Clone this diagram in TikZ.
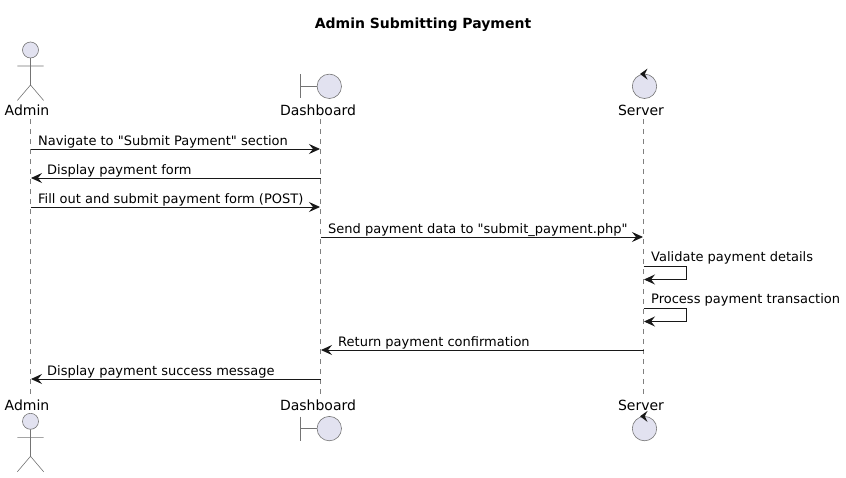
\documentclass[tikz,border=0pt]{standalone}
\usepackage{fontspec}
\setmainfont{DejaVu Sans}
\newfontfamily\plainfont{DejaVu Sans}
\usepackage{xcolor}
\usetikzlibrary{calc,arrows.meta,positioning}
\definecolor{inkx}{HTML}{181818}
\definecolor{softbg}{HTML}{E2E2F0}
\tikzset{
  x=1pt,y=-1pt,
  ar/.style={-{Stealth[length=11pt,width=10pt,inset=4pt]},line width=.9pt,inkx,shorten >=.5pt},
  lifeline/.style={inkx!55,line width=.6pt,dash pattern=on 5pt off 5pt},
  shp/.style={draw=inkx!60,line width=.6pt},
  orb/.style={shp,fill=softbg},
  party/.style={font=\fontsize{14}{16}\selectfont,inner sep=0pt,anchor=base,text=black},
  msg/.style={font=\plainfont\fontsize{13}{15}\selectfont,inner sep=0pt,anchor=base west,text=black}
}
\begin{document}
\begin{tikzpicture}
\useasboundingbox (0,0) rectangle (846,477);
\def\xA{30.5}\def\xD{320.5}\def\xS{643.5}
\node[font=\bfseries\fontsize{14}{16}\selectfont,inner sep=0pt,anchor=base] (title) at (423,28) {Admin Submitting Payment};
% participant names
\node[party] (adminTop) at (27,115) {Admin};
\node[party] (dashTop) at (318,115) {Dashboard};
\node[party] (serverTop) at (641,115) {Server};
\node[party] (adminBot) at (27,410) {Admin};
\node[party] (dashBot) at (318,410) {Dashboard};
\node[party] (serverBot) at (641,410) {Server};
% lifelines
\coordinate (aT) at (\xA,119); \coordinate (aB) at (\xA,395);
\coordinate (dT) at (\xD,119); \coordinate (dB) at (\xD,395);
\coordinate (sT) at (\xS,119); \coordinate (sB) at (\xS,395);
\draw[lifeline] (aT) -- (aB);
\draw[lifeline] (dT) -- (dB);
\draw[lifeline] (sT) -- (sB);
% actor, top and bottom
\foreach \y in {50,421.3}{
  \draw[orb] (\xA,\y) circle (8);
  \draw[shp] (\xA,\y+8) -- (\xA,\y+35) (17.3,\y+16) -- (43.7,\y+16)
    (17.3,\y+50.5) -- (\xA,\y+35) -- (43.7,\y+50.5);
}
% boundary, top and bottom
\foreach \y in {86.3,428.6}{
  \draw[shp] (300.3,\y-12) -- (300.3,\y+12) (300.3,\y) -- (317,\y);
  \draw[orb] (329.3,\y) circle (12.2);
}
% control, top and bottom
\foreach \y in {86.3,428.6}{
  \draw[orb] (644.5,\y) circle (12.2);
  \fill[inkx] (640,\y-12.3) -- (647.6,\y-17.8) -- (644.8,\y-12.3) -- (647.6,\y-6.6) -- cycle;
}
% messages
\foreach \n/\y in {1/149,2/178,3/207,4/237,5/350,6/379}{
  \coordinate (a\n) at (\xA,\y);
  \coordinate (d\n) at (\xD,\y);
  \coordinate (s\n) at (\xS,\y);
}
\draw[ar] (a1) -- (d1);
\draw[ar] (d2) -- (a2);
\draw[ar] (a3) -- (d3);
\draw[ar] (d4) -- (s4);
\draw[ar] (s5) -- (d5);
\draw[ar] (d6) -- (a6);
\node[msg] (m1) at (38,145.5) {Navigate to "Submit Payment" section};
\node[msg] (m2) at (47,174.5) {Display payment form};
\node[msg] (m3) at (38,203.5) {Fill out and submit payment form (POST)};
\node[msg] (m4) at (328,233.5) {Send payment data to "submit\_payment.php"};
\node[msg] (m5) at (338,346.5) {Return payment confirmation};
\node[msg] (m6) at (47,375.5) {Display payment success message};
% self messages
\coordinate (v1) at (\xS,266); \coordinate (v2) at (\xS,279.5);
\coordinate (p1) at (\xS,308.3); \coordinate (p2) at (\xS,321.5);
\draw[ar] (v1) -- (686.7,266) -- (686.7,279.5) -- (v2);
\draw[ar] (p1) -- (686.7,308.3) -- (686.7,321.5) -- (p2);
\node[msg] (m7) at (651,261) {Validate payment details};
\node[msg] (m8) at (651,303) {Process payment transaction};
\end{tikzpicture}
\end{document}
